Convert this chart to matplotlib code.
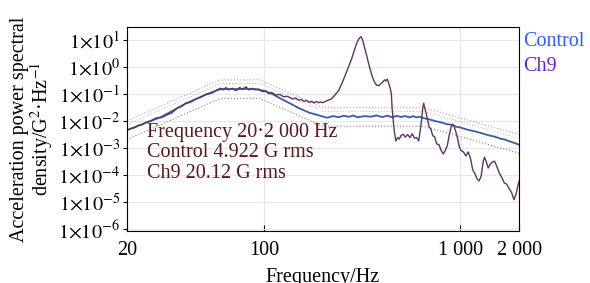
import numpy as np
import matplotlib
matplotlib.use("Agg")
import matplotlib.pyplot as plt

plt.rcParams['font.family'] = ['Liberation Serif', 'DejaVu Serif']
plt.rcParams['mathtext.fontset'] = 'stix'

## data ##
ch9_freq = [20, 21, 22, 23, 24, 25, 26.5, 28, 30, 32, 34, 36, 38, 40, 42, 45, 48, 51, 54, 57,
            60, 62, 64, 66, 69, 72, 75, 78, 81, 84, 87, 90, 94, 98, 102, 106, 110, 115, 120, 126,
            132, 140, 145, 150, 155, 160, 165, 170, 175, 180, 185, 190, 195, 200, 210, 220, 230, 240,
            250, 260, 270, 280, 290, 298,
            305, 312, 318, 325, 333, 340, 348, 356, 365, 375, 385, 395, 405, 412, 418, 425, 432, 440,
            446, 450, 455, 462, 470, 480, 490, 500, 512, 525, 540, 555, 570, 585, 600, 615, 625, 635,
            645, 652, 660, 670, 680, 695, 710, 725, 740, 760, 780, 800, 820, 840, 860, 880, 900, 915,
            930, 950, 970, 990, 1010, 1040, 1070, 1100, 1130, 1160, 1190, 1220, 1250, 1280, 1310, 1330,
            1360, 1390, 1420, 1460, 1500, 1540, 1580, 1630, 1680, 1730, 1780, 1830, 1880, 1930, 1970, 2000]
ch9_psd = [0.0045, 0.0052, 0.0056, 0.0068, 0.0072, 0.0088, 0.0098, 0.0125, 0.0132, 0.0165, 0.020, 0.029,
           0.034, 0.045, 0.048, 0.064, 0.077, 0.098, 0.105, 0.135,
           0.16, 0.14, 0.17, 0.14, 0.16, 0.13, 0.17, 0.15, 0.18, 0.14, 0.16, 0.14, 0.15, 0.12, 0.13,
           0.10, 0.11, 0.09, 0.095, 0.078,
           0.08, 0.064, 0.07, 0.058, 0.062, 0.052, 0.057, 0.048, 0.053, 0.046, 0.052, 0.047, 0.05, 0.047,
           0.056, 0.064, 0.09, 0.13,
           0.25, 0.5, 1.0, 2.0, 4.5, 8,
           11, 13, 10, 5.5, 2.8, 1.5, 0.8, 0.45, 0.28, 0.21, 0.2, 0.24, 0.28, 0.33, 0.3, 0.35, 0.25, 0.16,
           0.1, 0.03, 0.012, 0.004, 0.0018, 0.0024, 0.0021, 0.0029, 0.0032, 0.0025, 0.0031, 0.0024,
           0.0033, 0.0023, 0.0024, 0.0018, 0.004, 0.01,
           0.03, 0.045, 0.03, 0.02, 0.012, 0.006, 0.0048, 0.0028, 0.0026, 0.0014, 0.0013, 0.0008, 0.0006,
           0.0008, 0.0012, 0.003, 0.006, 0.0075,
           0.0065, 0.004, 0.0022, 0.0011, 0.0008, 0.0007, 0.0005, 0.0007, 0.0004, 0.00015, 0.00011,
           0.00007, 0.00006, 0.00009, 0.0003, 0.00045,
           0.0003, 0.00018, 0.00024, 0.0003, 0.00032, 0.0002, 0.00012, 0.00008, 0.00005, 0.000045,
           0.00003, 0.000022, 0.000012, 0.00002, 0.00004, 0.00006]

ctrl_freq = [20, 25, 30, 40, 50, 60, 70, 80, 90, 100, 110, 120, 135, 150, 170, 190, 210, 225, 240, 255,
             270, 285, 300, 325, 350, 375, 400, 425, 450, 475, 500, 525, 550, 575, 600, 625, 650, 700,
             750, 800, 850, 900, 950, 1000, 1100, 1200, 1300, 1400, 1500, 1600, 1700, 1800, 1900, 2000]
ctrl_psd = [0.0045, 0.0085, 0.014, 0.044, 0.09, 0.15, 0.15, 0.15, 0.15, 0.13, 0.1, 0.07, 0.045, 0.03,
            0.02, 0.016, 0.013, 0.015, 0.0135, 0.0155, 0.014, 0.0158, 0.0135, 0.015, 0.0142, 0.0158,
            0.0138, 0.0155, 0.0136, 0.0152, 0.0139, 0.0151, 0.0133, 0.0149, 0.0134, 0.0142, 0.0126,
            0.0112, 0.0097, 0.0088, 0.0076, 0.0072, 0.0061, 0.0057, 0.0046, 0.0040, 0.0034, 0.0029,
            0.0026, 0.0022, 0.0020, 0.0017, 0.0015, 0.0013]

# reference profile and tolerance lines
ref_freq = [20, 60, 95, 200, 650, 2000]
ref_psd = [0.0045, 0.15, 0.15, 0.014, 0.014, 0.0014]
upper_factor = 2.2
lower_factor = 0.45

x_ticks = [20, 100, 1000, 2000]
x_ticklabels = ['20', '100', '1 000', '2 000']
y_ticks = [1e-6, 1e-5, 1e-4, 1e-3, 1e-2, 1e-1, 1e0, 1e1]
y_ticklabels = [r'$1{\times}10^{%d}$' % e for e in range(-6, 2)]

info_lines = ['Frequency 20\u00b72 000 Hz', 'Control 4.922 G rms', 'Ch9 20.12 G rms']

fig = plt.figure(figsize=(5.9, 2.83), dpi=100)
ax = fig.add_axes([0.215, 0.184, 0.665, 0.721])

ref = np.array(ref_psd)
ax.plot(ref_freq, ref * upper_factor, ls=(0, (1, 1.5)), color='#d8a8c0', lw=0.9)
ax.plot(ref_freq, ref * lower_factor, ls=(0, (1, 1.5)), color='#9a9aa8', lw=0.9)
ax.plot(ref_freq, ref * 1.6, ls=(0, (1, 2)), color='#c8b890', lw=0.7)
ax.plot(ctrl_freq, ctrl_psd, color='#3a5aa8', lw=1.3)
ax.plot(ch9_freq, ch9_psd, color='#5e3466', lw=1.0)

ax.set_xscale('log')
ax.set_yscale('log')
ax.set_xlim(20, 2000)
ax.set_ylim(8.4e-7, 30)
ax.set_xticks(x_ticks)
ax.set_xticklabels(x_ticklabels)
ax.set_yticks(y_ticks)
ax.set_yticklabels(y_ticklabels)
ax.minorticks_off()
ax.tick_params(axis='x', direction='in', length=4, labelsize=14.5, pad=7)
ax.tick_params(axis='y', direction='out', length=3, labelsize=14.5, pad=2)
ax.grid(True, color='#e6e6e6', lw=0.8)

ax.set_ylabel('Acceleration power spectral\ndensity/G$^2$\u00b7Hz$^{-1}$', fontsize=14.5, linespacing=0.95,
              labelpad=2)
ax.set_xlabel('Frequency/Hz', fontsize=14.5, labelpad=6)

ax.text(0.051, 0.53, '\n'.join(info_lines), transform=ax.transAxes, va='top', ha='left',
        fontsize=14.5, color='#5a1818', linespacing=1.1)

fig.text(0.886, 0.855, 'Control', color='#2f5cff', fontsize=14.5, va='center')
fig.text(0.886, 0.765, 'Ch9', color='#6a22c8', fontsize=14.5, va='center')

fig.savefig('out.png', dpi=100)
